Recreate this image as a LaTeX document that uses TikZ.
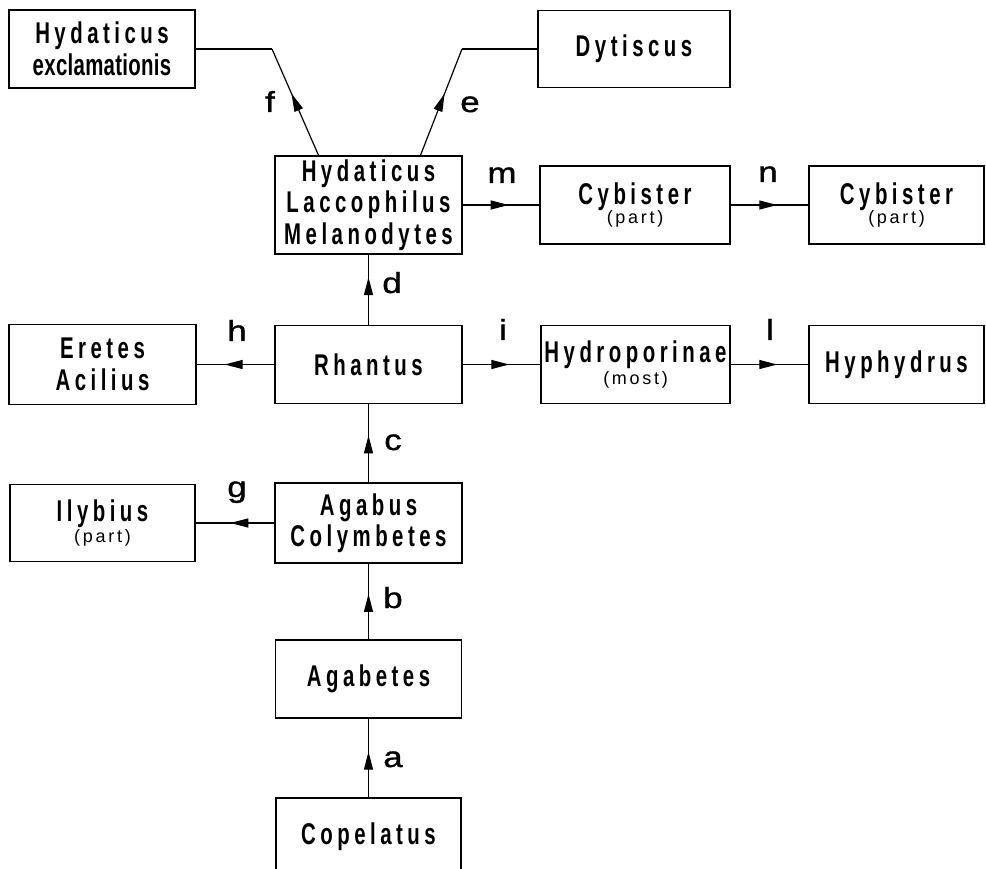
\documentclass[tikz,border=0pt]{standalone}
\usepackage{fontspec}
\setmainfont{Liberation Sans}
\newfontfamily\cnd[FakeStretch=0.68,LetterSpace=15]{Liberation Sans Bold}
\newfontfamily\cndt[FakeStretch=0.68,LetterSpace=1]{Liberation Sans Bold}
\newfontfamily\lblf[FakeStretch=1.2,FakeBold=1.2]{Liberation Sans}
\newfontfamily\smlf[LetterSpace=15]{Liberation Sans}
\usetikzlibrary{arrows.meta,decorations.markings,calc}
\newcommand{\smtext}[1]{{\smlf\fontsize{18}{20}\selectfont #1}}
\begin{document}
\begin{tikzpicture}[x=1pt,y=-1pt,
  box/.style={draw, line width=1.5pt, inner sep=0pt, align=center,
    minimum height=78pt, font=\cnd\fontsize{30}{31.5}\selectfont},
  conn/.style={line width=1.2pt},
  midarrow/.style={conn, postaction={decorate}, decoration={markings,
    mark=at position #1 with {\arrow{Triangle[length=18pt,width=9pt]}}}},
  midarrow/.default=0.6,
  lbl/.style={anchor=base, inner sep=0pt, font=\lblf\fontsize{29}{31}\selectfont},
]
\useasboundingbox (0,0) rectangle (986,869);

% boxes
\node[box, minimum width=186pt] (hex) at (102,49) {Hydaticus\\{\cndt exclamationis}};
\node[box, minimum width=192pt, minimum height=77pt] (dyt) at (634,49) {Dytiscus};
\node[box, minimum width=187pt, minimum height=98pt] (hlm) at (368.5,205) {Hydaticus\\Laccophilus\\Melanodytes};
\node[box, minimum width=190pt] (cyb1) at (635,205) {Cybister\\[-12pt]\smtext{(part)}};
\node[box, minimum width=175pt] (cyb2) at (896.5,205) {Cybister\\[-12pt]\smtext{(part)}};
\node[box, minimum width=187pt] (rha) at (368.5,364.5) {Rhantus};
\node[box, minimum width=187pt, minimum height=80pt] (ere) at (102.5,364.5) {Eretes\\Acilius};
\node[box, minimum width=189pt] (hyd) at (635.5,364.5) {Hydroporinae\\[-10pt]\smtext{(most)}};
\node[box, minimum width=175pt] (hyp) at (896.5,364.5) {Hyphydrus};
\node[box, minimum width=187pt, minimum height=80pt] (aga) at (368.5,523) {Agabus\\Colymbetes};
\node[box, minimum width=185pt, minimum height=77pt] (ily) at (102.5,523) {Ilybius\\[-10pt]\smtext{(part)}};
\node[box, minimum width=186pt] (agb) at (368.5,679) {Agabetes};
\node[box, minimum width=185pt] (cop) at (368.5,837) {Copelatus};

% bend points
\coordinate (fb) at (272,49);
\coordinate (eb) at (462,49);

% connectors
\draw[midarrow=0.58] ([xshift=-50pt]hlm.north) -- (fb);
\draw[conn] (fb) -- (hex.east);
\draw[midarrow=0.58] ([xshift=52pt]hlm.north) -- (eb);
\draw[conn] (eb) -- (dyt.west);
\draw[midarrow] (hlm.east) -- (cyb1.west);
\draw[midarrow] (cyb1.east) -- (cyb2.west);
\draw[midarrow=0.68] (rha.north) -- (hlm.south);
\draw[midarrow=0.64] (rha.west) -- (ere.east);
\draw[midarrow] (rha.east) -- (hyd.west);
\draw[midarrow] (hyd.east) -- (hyp.west);
\draw[midarrow] (aga.north) -- (rha.south);
\draw[midarrow=0.56] (aga.west) -- (ily.east);
\draw[midarrow] (agb.north) -- (aga.south);
\draw[midarrow=0.58] (cop.north) -- (agb.south);

% labels
\node[lbl] (lf) at (270,112) {f};
\node[lbl] (le) at (470,112) {e};
\node[lbl] (lm) at (502,183) {m};
\node[lbl] (ln) at (768,182) {n};
\node[lbl] (ld) at (392,293) {d};
\node[lbl] (lh) at (237,341) {h};
\node[lbl] (li) at (503,340) {i};
\node[lbl] (ll) at (770,340) {l};
\node[lbl] (lc) at (393,450) {c};
\node[lbl] (lg) at (237,497) {g};
\node[lbl] (lb) at (393,608) {b};
\node[lbl] (la) at (393,767) {a};
\end{tikzpicture}
\end{document}
